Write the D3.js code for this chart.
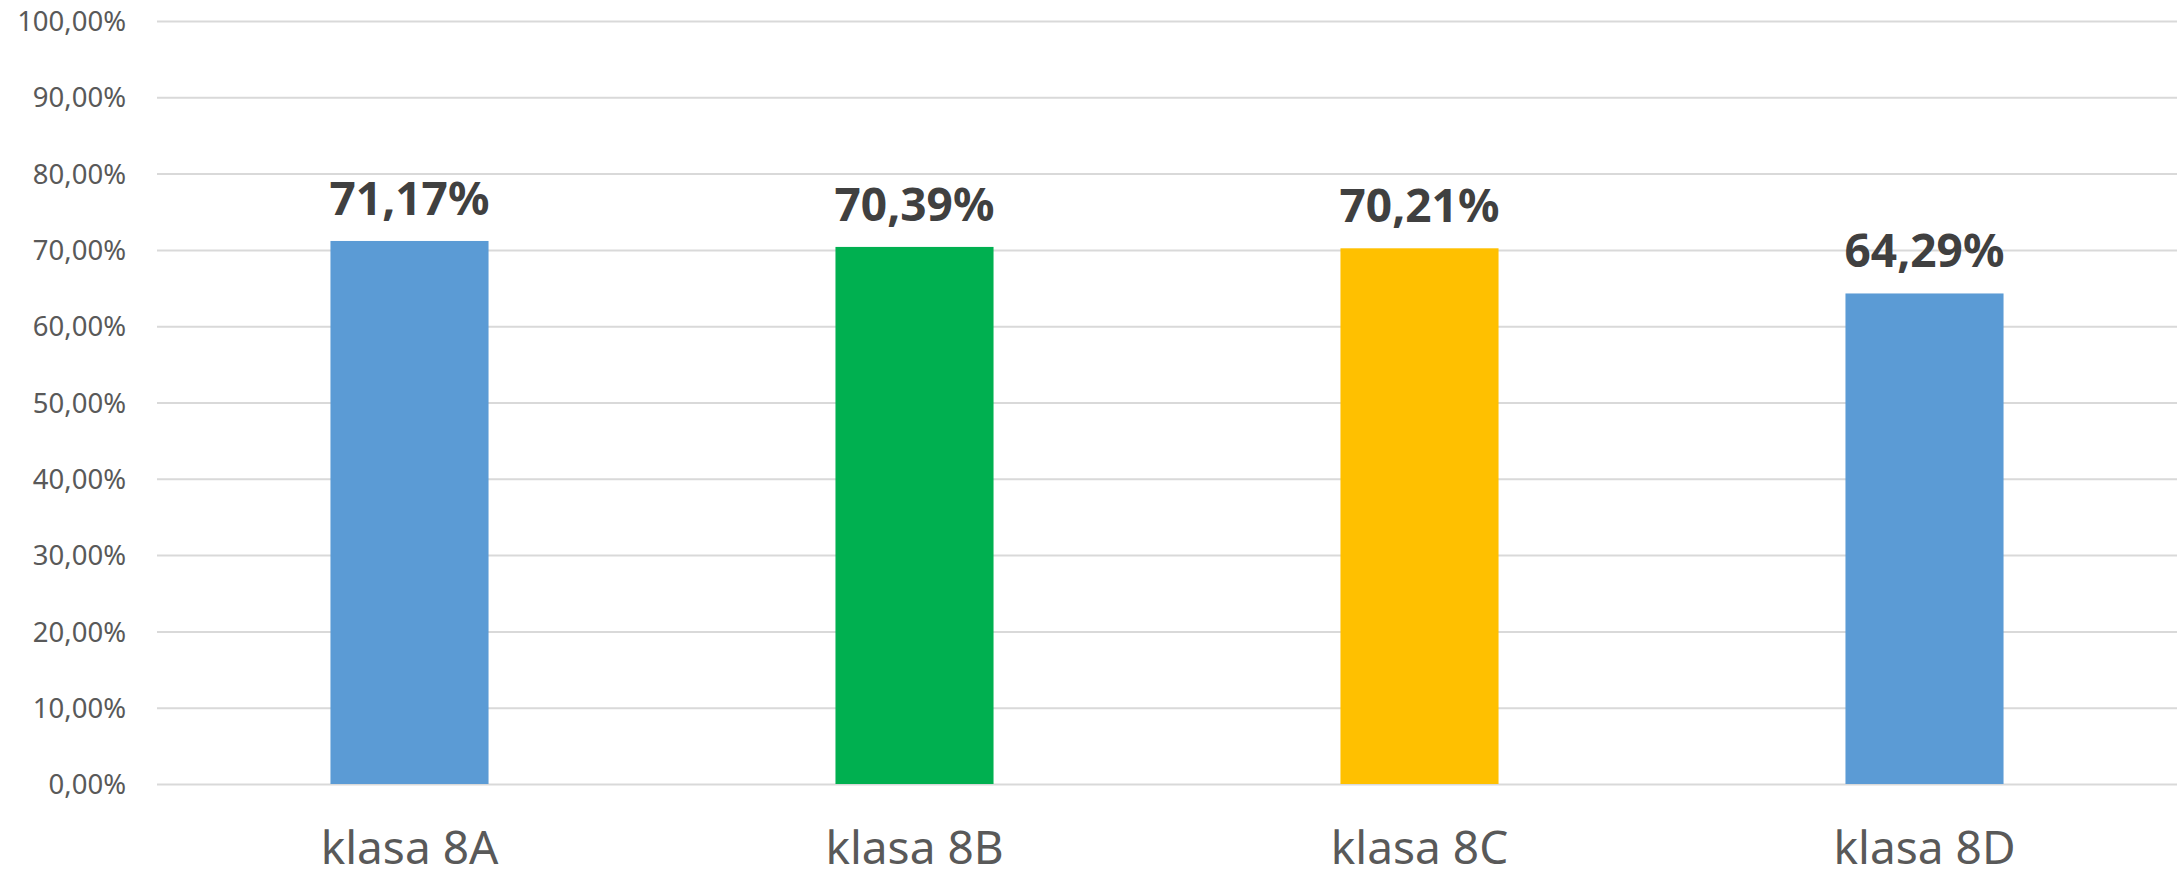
<!DOCTYPE html>
<html>
<head>
<meta charset="utf-8">
<script src="https://cdn.jsdelivr.net/npm/d3@7"></script>
<style>
  html, body { margin: 0; padding: 0; background: #ffffff; }
  svg { display: block; }
</style>
</head>
<body>
<svg id="chart" width="2183" height="876"></svg>
<script>
const categories = ["klasa 8A", "klasa 8B", "klasa 8C", "klasa 8D"];
const values = [71.17, 70.39, 70.21, 64.29];
const valueLabels = ["71,17%", "70,39%", "70,21%", "64,29%"];
const barColors = ["#5B9BD5", "#00B050", "#FFC000", "#5B9BD5"];
const tickValues = [0, 10, 20, 30, 40, 50, 60, 70, 80, 90, 100];
const tickLabels = ["0,00%", "10,00%", "20,00%", "30,00%", "40,00%", "50,00%", "60,00%", "70,00%", "80,00%", "90,00%", "100,00%"];

const W = 2183, H = 876;
const margin = { top: 21, right: 6, bottom: 92, left: 157 };
const svg = d3.select("#chart");

const x = d3.scaleBand()
  .domain(categories)
  .range([margin.left, W - margin.right])
  .paddingInner(0.687)
  .paddingOuter(0.3435);

const y = d3.scaleLinear()
  .domain([0, 100])
  .range([H - margin.bottom, margin.top]);

// gridlines
const yAxis = d3.axisLeft(y)
  .tickValues(tickValues)
  .tickSize(-(W - margin.left - margin.right))
  .tickFormat((d, i) => tickLabels[i]);

const gy = svg.append("g")
  .attr("transform", `translate(${margin.left},0)`)
  .call(yAxis);
gy.select(".domain").remove();
gy.selectAll(".tick line").attr("stroke", "#D9D9D9").attr("stroke-width", 2);
gy.selectAll(".tick text")
  .attr("x", -31)
  .attr("dy", "0.35em")
  .attr("fill", "#595959")
  .style("font-family", "'Noto Sans', sans-serif")
  .style("font-size", "27.5px");

// bars
svg.append("g").selectAll("rect")
  .data(values)
  .join("rect")
  .attr("x", (d, i) => x(categories[i]))
  .attr("width", x.bandwidth())
  .attr("y", d => y(d))
  .attr("height", d => y(0) - y(d))
  .attr("fill", (d, i) => barColors[i]);

// value labels
svg.append("g").selectAll("text")
  .data(values)
  .join("text")
  .attr("x", (d, i) => x(categories[i]) + x.bandwidth() / 2)
  .attr("y", d => y(d) - 26)
  .attr("text-anchor", "middle")
  .attr("fill", "#404040")
  .style("font-family", "'Noto Sans', sans-serif")
  .style("font-weight", "bold")
  .style("font-size", "46px")
  .text((d, i) => valueLabels[i]);

// category axis
const xAxis = d3.axisBottom(x).tickSize(0);
const gx = svg.append("g")
  .attr("transform", `translate(0,${y(0)})`)
  .call(xAxis);
gx.select(".domain").remove();
gx.selectAll(".tick text")
  .attr("y", 80)
  .attr("dy", 0)
  .attr("fill", "#595959")
  .style("font-family", "'Noto Sans', sans-serif")
  .style("font-size", "46px");
</script>
</body>
</html>
